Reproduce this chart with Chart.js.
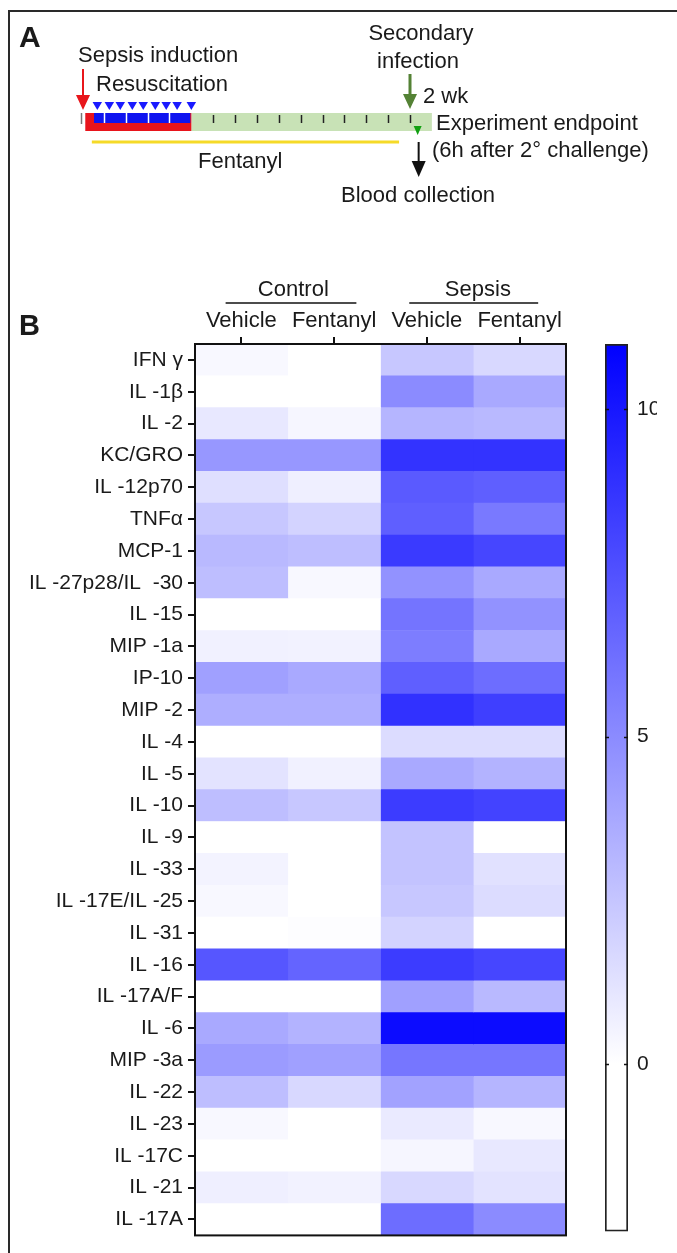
<!DOCTYPE html>
<html>
<head>
<meta charset="utf-8">
<script src="https://cdn.jsdelivr.net/npm/chart.js@4.4.1/dist/chart.umd.min.js"></script>
<style>
  body { margin: 0; background: #fff; }
  #fig { position: relative; width: 677px; height: 1253px; overflow: hidden; background: #fff; }
  #frame { position: absolute; left: 8px; top: 10px; width: 680px; height: 1260px;
           border-left: 2px solid #2a2a2a; border-top: 2px solid #2a2a2a; }
  canvas { position: absolute; }
  #timeline { left: 0; top: 0; }
  #heat { left: 0; top: 250px; }
  #cbar { left: 560px; top: 250px; }
</style>
</head>
<body>
<div id="fig">
  <div id="frame"></div>
  <canvas id="timeline" width="677" height="250"></canvas>
  <canvas id="heat" width="677" height="1003"></canvas>
  <canvas id="cbar" width="97" height="1003"></canvas>
</div>
<script>
// ========== DATA ==========
const rowLabels = [
  'IFN γ', 'IL -1β', 'IL -2', 'KC/GRO', 'IL -12p70', 'TNFα', 'MCP-1',
  'IL -27p28/IL  -30', 'IL -15', 'MIP -1a', 'IP-10', 'MIP -2', 'IL -4', 'IL -5',
  'IL -10', 'IL -9', 'IL -33', 'IL -17E/IL -25', 'IL -31', 'IL -16', 'IL -17A/F',
  'IL -6', 'MIP -3a', 'IL -22', 'IL -23', 'IL -17C', 'IL -21', 'IL -17A'
];
const colLabels = ['Vehicle', 'Fentanyl', 'Vehicle', 'Fentanyl'];
const groupLabels = ['Control', 'Sepsis'];

const controlVehicle  = [0.3, 0, 1.0, 4.5, 1.4, 2.4, 3.0, 2.8, 0, 0.6, 4.1, 3.5, 0, 1.2,
                         2.8, 0, 0.5, 0.3, 0, 7.3, 0, 3.7, 4.3, 2.8, 0.3, 0, 0.7, 0];
const controlFentanyl = [0, 0, 0.4, 4.5, 0.7, 1.9, 2.8, 0.3, 0, 0.55, 3.7, 3.5, 0, 0.6,
                         2.4, 0, 0, 0, 0.1, 6.7, 0, 3.3, 4.1, 1.7, 0, 0, 0.55, 0];
const sepsisVehicle   = [2.4, 5.0, 3.2, 8.8, 7.1, 6.9, 8.5, 4.7, 6.0, 5.6, 6.9, 8.9, 1.5, 3.7,
                         8.4, 2.6, 2.6, 2.4, 1.9, 8.4, 4.1, 10.5, 5.9, 4.0, 0.9, 0.4, 1.7, 6.3];
const sepsisFentanyl  = [1.7, 3.7, 3.0, 8.8, 6.9, 5.8, 8.0, 3.7, 4.7, 3.7, 6.3, 8.3, 1.5, 3.3,
                         8.1, 0, 1.3, 1.5, 0, 8.0, 3.0, 10.5, 5.9, 3.2, 0.3, 1.0, 1.2, 5.0];

const colorMin = -2.56;
const colorMax = 11;
const colorTicks = [0, 5, 10];

// timeline (days)
const dayTicks = [0, 1, 2, 3, 4, 5, 6, 7, 8, 9, 10, 11, 12, 13, 14, 15];
const resuscitationDoses = [0.7, 1.25, 1.75, 2.3, 2.8, 3.35, 3.85, 4.35, 5.0];
const sepsisPhase = [0.15, 5];
const resuscitationPhase = [0.55, 4.95];
const recoveryPhase = [5, 16];
const fentanylPeriod = [0.45, 14.5];
const secondaryInfectionDay = 15;
const endpointDay = 15.35;

const FONT = '"Liberation Sans", Arial, Helvetica, sans-serif';
const INK = '#1a1a1a';

function heatColor(v) {
  const t = Math.max(0, Math.min(1, v / colorMax));
  const c = Math.round(255 * (1 - t));
  return `rgb(${c},${c},255)`;
}

function arrow(ctx, x, y0, y1, color, lw, hw, hl) {
  ctx.strokeStyle = color;
  ctx.fillStyle = color;
  ctx.lineWidth = lw;
  ctx.beginPath();
  ctx.moveTo(x, y0);
  ctx.lineTo(x, y1 - hl + 2);
  ctx.stroke();
  ctx.beginPath();
  ctx.moveTo(x - hw, y1 - hl);
  ctx.lineTo(x + hw, y1 - hl);
  ctx.lineTo(x, y1);
  ctx.closePath();
  ctx.fill();
}

function downTriangle(ctx, x, yTop, w, h, color) {
  ctx.fillStyle = color;
  ctx.beginPath();
  ctx.moveTo(x - w / 2, yTop);
  ctx.lineTo(x + w / 2, yTop);
  ctx.lineTo(x, yTop + h);
  ctx.closePath();
  ctx.fill();
}

// ========== PANEL A: TIMELINE ==========
const timelinePlugin = {
  id: 'timelineDraw',
  afterDraw(chart) {
    const ctx = chart.ctx;
    const xs = chart.scales.x;
    const ys = chart.scales.y;
    const px = d => xs.getPixelForValue(d);
    const py = v => ys.getPixelForValue(v);
    ctx.save();

    // bars
    ctx.fillStyle = 'rgb(200,226,182)';
    ctx.fillRect(px(recoveryPhase[0]), py(113), px(recoveryPhase[1]) - px(recoveryPhase[0]), py(131) - py(113));
    ctx.fillStyle = '#e8141c';
    ctx.fillRect(px(sepsisPhase[0]), py(113), px(sepsisPhase[1]) - px(sepsisPhase[0]), py(131) - py(113));
    ctx.fillStyle = '#0f14f0';
    ctx.fillRect(px(resuscitationPhase[0]), py(113), px(resuscitationPhase[1]) - px(resuscitationPhase[0]), py(123) - py(113));

    // day ticks
    dayTicks.forEach(d => {
      const x = Math.round(px(d)) + 0.5;
      ctx.lineWidth = 1.5;
      if (d === 0) {
        ctx.strokeStyle = '#777';
        ctx.beginPath(); ctx.moveTo(x - 1, py(113)); ctx.lineTo(x - 1, py(124)); ctx.stroke();
      } else if (d < recoveryPhase[0]) {
        ctx.strokeStyle = '#fff';
        ctx.beginPath(); ctx.moveTo(x, py(113)); ctx.lineTo(x, py(123)); ctx.stroke();
      } else if (d > recoveryPhase[0]) {
        ctx.strokeStyle = '#222';
        ctx.beginPath(); ctx.moveTo(x, py(115)); ctx.lineTo(x, py(123)); ctx.stroke();
      }
    });

    // resuscitation doses
    resuscitationDoses.forEach(d => downTriangle(ctx, px(d), py(102), 9.5, 8, '#1a1aff'));

    // fentanyl line
    ctx.strokeStyle = 'rgb(245,218,40)';
    ctx.lineWidth = 3;
    ctx.beginPath();
    ctx.moveTo(px(fentanylPeriod[0]), py(142));
    ctx.lineTo(px(fentanylPeriod[1]), py(142));
    ctx.stroke();

    // arrows
    arrow(ctx, px(0) + 1, py(69), py(110), '#e8161b', 2, 7, 15);
    arrow(ctx, px(secondaryInfectionDay), py(74), py(109), 'rgb(84,130,53)', 3, 7, 15);
    downTriangle(ctx, px(endpointDay), py(126), 8, 9, '#12a012');
    arrow(ctx, px(endpointDay) + 1, py(142), py(177), '#111', 2, 7, 16);

    // text
    ctx.fillStyle = INK;
    ctx.textBaseline = 'alphabetic';
    ctx.textAlign = 'left';
    ctx.font = 'bold 30px ' + FONT;
    ctx.fillText('A', 19, py(47));
    ctx.font = '22px ' + FONT;
    ctx.fillText('Sepsis induction', 78, py(62));
    ctx.fillText('Resuscitation', 96, py(91));
    ctx.fillText('2 wk', 423, py(103));
    ctx.fillText('Experiment endpoint', 436, py(130));
    ctx.fillText('(6h after 2° challenge)', 432, py(157));
    ctx.fillText('Fentanyl', 198, py(168));
    ctx.fillText('Blood collection', 341, py(202));
    ctx.textAlign = 'center';
    ctx.fillText('Secondary', 421, py(40));
    ctx.fillText('infection', 418, py(68));
    ctx.restore();
  }
};

new Chart(document.getElementById('timeline'), {
  type: 'scatter',
  data: { datasets: [] },
  options: {
    responsive: false,
    animation: false,
    events: [],
    layout: { padding: 0 },
    plugins: { legend: { display: false }, tooltip: { enabled: false } },
    scales: {
      x: { type: 'linear', min: -3.75, max: 27.21, display: false },
      y: { type: 'linear', min: 0, max: 250, reverse: true, display: false }
    }
  },
  plugins: [timelinePlugin]
});

// ========== PANEL B: HEATMAP ==========
const columns = [controlVehicle, controlFentanyl, sepsisVehicle, sepsisFentanyl];
const heatDatasets = columns.map((vals, c) => ({
  label: colLabels[c],
  data: vals.map(() => [c, c + 1]),
  backgroundColor: vals.map(heatColor),
  borderWidth: 0,
  barPercentage: 1,
  categoryPercentage: 1,
  grouped: false
}));

const heatFramePlugin = {
  id: 'heatFrame',
  afterDraw(chart) {
    const ctx = chart.ctx;
    const a = chart.chartArea;
    const xs = chart.scales.x;
    ctx.save();
    ctx.strokeStyle = '#111';
    ctx.lineWidth = 2;
    ctx.strokeRect(a.left, a.top, a.right - a.left, a.bottom - a.top);

    // group labels with underline
    const groups = [[0.33, 1.74, 1.06], [2.31, 3.7, 3.05]];
    ctx.fillStyle = INK;
    ctx.font = '22px ' + FONT;
    ctx.textAlign = 'center';
    ctx.textBaseline = 'alphabetic';
    groups.forEach((g, i) => {
      ctx.lineWidth = 1.5;
      ctx.beginPath();
      ctx.moveTo(xs.getPixelForValue(g[0]), a.top - 41);
      ctx.lineTo(xs.getPixelForValue(g[1]), a.top - 41);
      ctx.stroke();
      ctx.fillText(groupLabels[i], xs.getPixelForValue(g[2]), a.top - 48);
    });

    ctx.textAlign = 'left';
    ctx.font = 'bold 29px ' + FONT;
    ctx.fillText('B', 19, a.top - 9);
    ctx.restore();
  }
};

new Chart(document.getElementById('heat'), {
  type: 'bar',
  data: { labels: rowLabels, datasets: heatDatasets },
  options: {
    indexAxis: 'y',
    responsive: false,
    animation: false,
    events: [],
    layout: { padding: { left: 0, right: 111, top: 0, bottom: 14 } },
    plugins: { legend: { display: false }, tooltip: { enabled: false } },
    scales: {
      x: {
        type: 'linear',
        position: 'top',
        min: 0,
        max: 4,
        afterBuildTicks: s => { s.ticks = [0.5, 1.5, 2.5, 3.5].map(v => ({ value: v })); },
        afterFit: s => { s.height = 94; },
        grid: { drawOnChartArea: false, drawTicks: true, tickLength: 7, color: '#111', lineWidth: 2 },
        border: { display: true, color: '#111', width: 2 },
        ticks: {
          callback: (v, i) => colLabels[i],
          color: INK,
          font: { family: FONT, size: 22 },
          padding: 3,
          maxRotation: 0,
          autoSkip: false
        }
      },
      y: {
        type: 'category',
        position: 'left',
        offset: true,
        afterFit: s => { s.width = 195; },
        grid: { offset: false, drawOnChartArea: false, drawTicks: true, tickLength: 7, color: '#111', lineWidth: 2 },
        border: { display: true, color: '#111', width: 2 },
        ticks: {
          color: INK,
          font: { family: FONT, size: 21 },
          padding: 5,
          autoSkip: false
        }
      }
    }
  },
  plugins: [heatFramePlugin]
});

// ========== COLOR BAR ==========
const cbarTickPlugin = {
  id: 'cbarTicks',
  afterDatasetsDraw(chart) {
    const ctx = chart.ctx;
    const a = chart.chartArea;
    const ys = chart.scales.y;
    ctx.save();
    ctx.strokeStyle = '#111';
    ctx.lineWidth = 1.5;
    colorTicks.forEach(v => {
      const y = Math.round(ys.getPixelForValue(v)) + 0.5;
      ctx.beginPath();
      ctx.moveTo(a.left, y); ctx.lineTo(a.left + 4, y);
      ctx.moveTo(a.right - 4, y); ctx.lineTo(a.right, y);
      ctx.stroke();
    });
    ctx.restore();
  }
};

new Chart(document.getElementById('cbar'), {
  type: 'bar',
  data: {
    labels: ['scale'],
    datasets: [{
      data: [[colorMin, colorMax]],
      backgroundColor: ctx => {
        const chart = ctx.chart;
        if (!chart.chartArea) return '#fff';
        const ys = chart.scales.y;
        const g = chart.ctx.createLinearGradient(0, ys.getPixelForValue(0), 0, ys.getPixelForValue(colorMax));
        g.addColorStop(0, 'rgb(255,255,255)');
        g.addColorStop(1, 'rgb(0,0,255)');
        return g;
      },
      borderColor: '#222',
      borderWidth: 2,
      borderSkipped: false,
      barPercentage: 1,
      categoryPercentage: 1
    }]
  },
  options: {
    responsive: false,
    animation: false,
    events: [],
    layout: { padding: { left: 45, right: 0, top: 94, bottom: 14 } },
    plugins: { legend: { display: false }, tooltip: { enabled: false } },
    scales: {
      x: { type: 'category', display: false },
      y: {
        type: 'linear',
        position: 'right',
        min: colorMin,
        max: colorMax,
        afterBuildTicks: s => { s.ticks = colorTicks.map(v => ({ value: v })); },
        afterFit: s => { s.width = 29; },
        grid: { drawOnChartArea: false, drawTicks: false },
        border: { display: false },
        ticks: { color: INK, font: { family: FONT, size: 21 }, padding: 9 }
      }
    }
  },
  plugins: [cbarTickPlugin]
});
</script>
</body>
</html>
